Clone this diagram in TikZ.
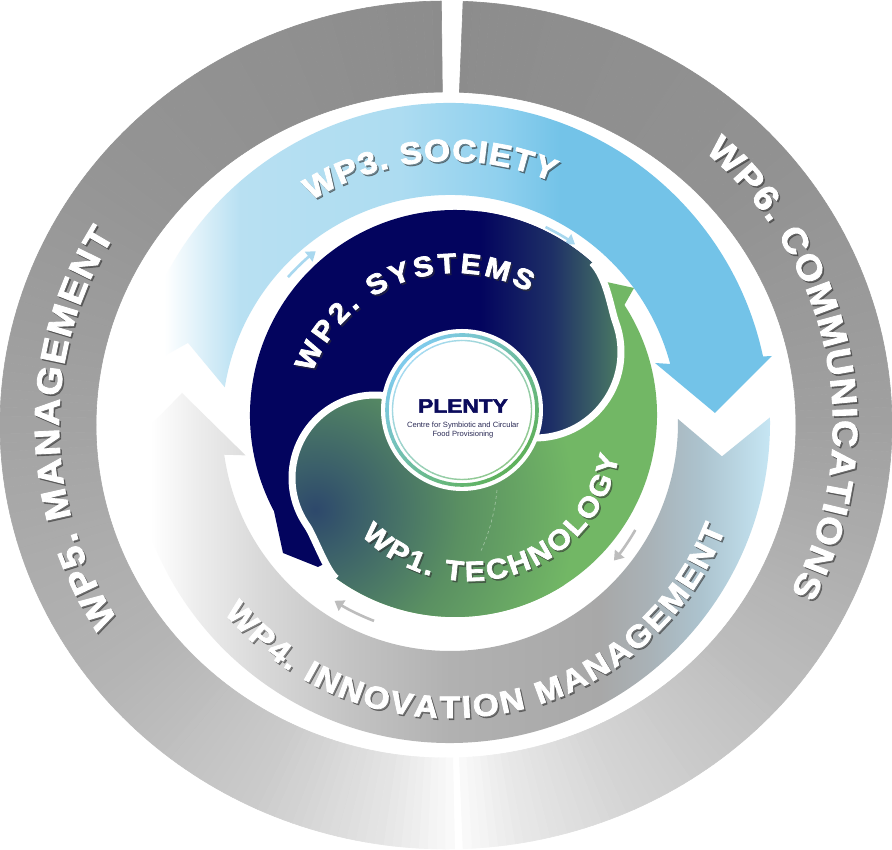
\documentclass[tikz,border=0pt]{standalone}
\usepackage{fontspec}
\setmainfont{Liberation Sans}
\newfontfamily\wpheavy{Liberation Sans}[FakeBold=2.5,FakeStretch=1.08]
\usetikzlibrary{calc,decorations.text,arrows.meta}

\definecolor{wpnavy}{HTML}{03045E}
\definecolor{navyM}{HTML}{1E3066}
\definecolor{navyR}{HTML}{4E8064}
\definecolor{gr0}{HTML}{2D486B}
\definecolor{gr1}{HTML}{3A5E6A}
\definecolor{gr2}{HTML}{5A9062}
\definecolor{gr3}{HTML}{72B765}
\definecolor{wpa}{HTML}{B8E0F2}
\definecolor{wpb}{HTML}{ADDCF1}
\definecolor{wpc}{HTML}{8FD0EE}
\definecolor{wpd}{HTML}{73C3E8}
\definecolor{gfa}{HTML}{ECECEC}
\definecolor{gfb}{HTML}{D9D9D9}
\definecolor{gfc}{HTML}{C3C3C3}
\definecolor{gfd}{HTML}{B1B1B1}
\definecolor{gfe}{HTML}{A8A8A8}
\definecolor{gff}{HTML}{A9B2B7}
\definecolor{gfg}{HTML}{ACC3CE}
\definecolor{gfh}{HTML}{C6E6F4}
\definecolor{ringblue}{HTML}{7FCBEC}
\definecolor{ringgreen}{HTML}{5FB15C}
\definecolor{plentyblue}{HTML}{0B0B5C}
\definecolor{subtxt}{HTML}{2A2A55}
\definecolor{arrblue}{HTML}{A9D8EF}
\definecolor{arrgray}{HTML}{BDBDBD}

\pgfdeclarehorizontalshading{wpthreeshade}{100bp}{color(0bp)=(white); color(29.6bp)=(white); color(35bp)=(wpa); color(46.4bp)=(wpb); color(53.6bp)=(wpc); color(57.9bp)=(wpd); color(100bp)=(wpd)}
\pgfdeclarehorizontalshading{wpfourshade}{100bp}{color(0bp)=(white); color(28.6bp)=(white); color(32.1bp)=(gfa); color(36.4bp)=(gfb); color(42.9bp)=(gfc); color(50bp)=(gfd); color(60.7bp)=(gfe); color(64.3bp)=(gff); color(67.9bp)=(gfg); color(72.9bp)=(gfh); color(100bp)=(gfh)}
\pgfdeclareradialshading{greenshade}{\pgfpoint{0bp}{0bp}}{color(0bp)=(gr0); color(4bp)=(gr1); color(14bp)=(gr2); color(25bp)=(gr3); color(50bp)=(gr3)}

\newcommand\wpfA{\wpheavy\bfseries\fontsize{35}{35}\selectfont}
\newcommand\wpfB{\wpheavy\bfseries\fontsize{31}{31}\selectfont}
\newcommand\wpfC{\wpheavy\bfseries\fontsize{28}{28}\selectfont}

% wedge of the outer elliptic ring, grey level from #3 to #4 (percent black)
\newcommand\outseg[4]{%
  \pgfmathtruncatemacro\nseg{max(1,round(abs((#2)-(#1))/1.2))}%
  \foreach \si in {1,...,\nseg}{%
    \pgfmathsetmacro\segA{(#1)+((#2)-(#1))*(\si-1)/\nseg}%
    \pgfmathsetmacro\segB{(#1)+((#2)-(#1))*\si/\nseg}%
    \pgfmathsetmacro\segQ{(#3)+((#4)-(#3))*(\si-0.5)/\nseg}%
    \fill[black!\segQ, draw=black!\segQ, line width=0.6pt, line join=round]
      ({446+350*cos(\segA)},{425+333*sin(\segA)}) -- ({446+350*cos(\segB)},{425+333*sin(\segB)})
      -- ({446+446*cos(\segB)},{425+424*sin(\segB)}) -- ({446+446*cos(\segA)},{425+424*sin(\segA)}) -- cycle;
  }}

% white label with a soft dark drop shadow
\newcommand\curvetext[3]{%
  \begin{scope}[transform canvas={xshift=1.6pt,yshift=-1.8pt}, opacity=0.5]
    \path[decorate, decoration={text along path, text={|#1|#2}, text color=black!80, text align={fit to path}}] #3;
  \end{scope}
  \path[decorate, decoration={text along path, text={|#1|#2}, text color=white, text align={fit to path}}] #3;}

\begin{document}
\begin{tikzpicture}[x=1pt,y=1pt,
  minarrow/.style={line width=2.6pt, -{Triangle[length=9pt,width=12pt]}},
  gapline/.style={white, line width=7pt}]
\useasboundingbox (0,0) rectangle (892,850);
\fill[white] (0,0) rectangle (892,850);

\coordinate (O) at (446,425);
\coordinate (M) at (450,427);
\coordinate (D) at (455,435);
\coordinate (U) at (535,498);
\coordinate (L) at (375,372);
\coordinate (C) at (462,440);
\coordinate (P1) at (470,420);
\coordinate (P2) at (455,425);

% ---------- outer ring: WP5 (left) and WP6 (right)
\outseg{90.6}{140}{45}{42}
\outseg{140}{180}{42}{36}
\outseg{180}{220}{36}{29}
\outseg{220}{245}{29}{20}
\outseg{245}{262}{20}{10}
\outseg{262}{271.1}{10}{2}
\outseg{87.8}{40}{45}{43}
\outseg{40}{0}{43}{37}
\outseg{0}{-40}{37}{26}
\outseg{-40}{-65}{26}{17}
\outseg{-65}{-80}{17}{9}
\outseg{-80}{-87.8}{9}{2}

% ---------- WP3 (blue arrow)
\begin{scope}
\clip ($(M)+(171:228)$) -- ($(M)+(163:274)$) -- ($(M)+(171:320)$)
  arc[start angle=171, end angle=12, radius=320] -- (772,494) -- (715,437) -- (655,487)
  -- ($(M)+(15:228)$) arc[start angle=15, end angle=171, radius=228] -- cycle;
\shade[shading=wpthreeshade] (100,400) rectangle (800,760);
\end{scope}

% ---------- WP4 (grey arrow)
\begin{scope}
\clip ($(M)+(1:320)$) -- ($(M)+(-7:274)$) -- ($(M)+(1:228)$)
  arc[start angle=1, end angle=-172, radius=228] -- ($(M)+(-171:207)$) -- (182,457)
  -- ($(M)+(-173:340)$) -- ($(M)+(-172:320)$) arc[start angle=-172, end angle=1, radius=320] -- cycle;
\shade[shading=wpfourshade] (100,90) rectangle (800,470);
\end{scope}

% ---------- small arrows in the gaps
\draw[minarrow, arrblue] ($(M)+(138:218)$) arc[start angle=138, end angle=128, radius=218];
\draw[minarrow, arrblue] ($(M)+(64:218)$) arc[start angle=64, end angle=55, radius=218];
\draw[minarrow, arrgray] ($(M)+(-30:214)$) arc[start angle=-30, end angle=-40, radius=214];
\draw[minarrow, arrgray] ($(M)+(-111:212)$) arc[start angle=-111, end angle=-123, radius=212];

% ---------- WP2 (navy)
\begin{scope}
\clip (318,283) -- (283,297) -- ($(D)+(208:205)$) arc[start angle=208, end angle=48, radius=205]
  .. controls (607,572) and (610.7,541.5) .. ($(U)+(20:86)$)
  arc[start angle=20, end angle=-95, radius=86]
  -- (470,420) -- (420,430) -- (360,420) -- (330,380) -- (330,330) -- (335,292) -- cycle;
\fill[wpnavy] (200,200) rectangle (700,700);
\shade[left color=wpnavy, right color=navyR, middle color=navyM] (480,200) rectangle (625,700);
\fill[navyR] (625,200) rectangle (700,700);
\end{scope}

% ---------- WP1 (green)
\begin{scope}
\clip (602,569) -- (634,562) -- ($(D)+(33:202)$) arc[start angle=33, end angle=-126, radius=202]
  .. controls (326.6,278.7) and (313.9,314.6) .. ($(L)+(215:83)$)
  arc[start angle=215, end angle=60, radius=83]
  -- ($(U)+(-100:86)$) arc[start angle=-100, end angle=20, radius=86]
  .. controls (611,542) and (606,560) .. (602,569) -- cycle;
\fill[gr3] (200,150) rectangle (720,700);
\shade[shading=greenshade] (315,340) circle[radius=260];
\end{scope}

% white gaps between navy and green
\draw[gapline] ($(D)+(48:205)$) .. controls (607,572) and (610.7,541.5) .. ($(U)+(20:86)$)
  arc[start angle=20, end angle=-95, radius=86];
\draw[gapline] ($(D)+(-126:202)$) .. controls (326.6,278.7) and (313.9,314.6) .. ($(L)+(215:83)$)
  arc[start angle=215, end angle=60, radius=83];
\draw[white, opacity=0.45, line width=0.6pt, dashed] (497,360) .. controls (494,330) and (486,310) .. (480,297);

% ---------- centre circle
\fill[white] (C) circle[radius=81];
\foreach \si in {0,...,71}{
  \pgfmathsetmacro\segA{\si*5}
  \pgfmathsetmacro\segB{\si*5+5.5}
  \pgfmathsetmacro\segQ{50+50*cos(\si*5+2.5-135)}
  \draw[ringblue!\segQ!ringgreen, line width=3.6pt] ($(C)+(\segA:75)$) arc[start angle=\segA, end angle=\segB, radius=75];
  \draw[ringblue!\segQ!ringgreen!70!white, line width=1.4pt] ($(C)+(\segA:69.5)$) arc[start angle=\segA, end angle=\segB, radius=69.5];
}
\node[font=\wpheavy\bfseries\fontsize{19.5}{19.5}\selectfont, text=plentyblue, inner sep=0pt] (plenty) at (463,444) {\scalebox{1.08}[1]{PLENTY}};
\node[font=\fontsize{7.6}{9}\selectfont, text=subtxt, inner sep=0pt] (sub1) at (463,424.5) {Centre for Symbiotic and Circular};
\node[font=\fontsize{7.6}{9}\selectfont, text=subtxt, inner sep=0pt] (sub2) at (463,415.5) {Food Provisioning};

% ---------- curved labels
\curvetext{\wpfA}{WP5. MANAGEMENT}{({446+387*cos(212)},{425+368*sin(212)}) arc[start angle=212, end angle=149, x radius=387, y radius=368]}
\curvetext{\wpfA}{WP6. COMMUNICATIONS}{({446+387*cos(48)},{425+368*sin(48)}) arc[start angle=48, end angle=-27, x radius=387, y radius=368]}
\curvetext{\wpfB}{WP3. SOCIETY}{($(M)+(122:262)$) arc[start angle=122, end angle=67, radius=262]}
\curvetext{\wpfB}{WP4. INNOVATION MANAGEMENT}{($(M)+(-140:295)$) arc[start angle=-140, end angle=-21, radius=295]}
\curvetext{\wpfC}{WP2. SYSTEMS}{($(P2)+(160:152)$) arc[start angle=160, end angle=61, radius=152]}
\curvetext{\wpfC}{WP1. TECHNOLOGY}{($(P1)+(-136:151)$) arc[start angle=-136, end angle=-10, radius=151]}
\end{tikzpicture}
\end{document}
